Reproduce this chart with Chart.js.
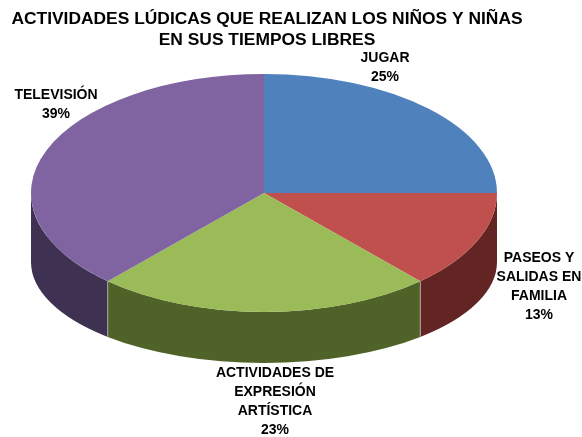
<!DOCTYPE html>
<html>
<head>
<meta charset="utf-8">
<script src="https://cdn.jsdelivr.net/npm/chart.js@4"></script>
<style>html,body{margin:0;padding:0;background:#fff}canvas{display:block}</style>
</head>
<body>
<canvas id="c" width="582" height="437"></canvas>
<script>
const titleLines = ["ACTIVIDADES LÚDICAS QUE REALIZAN LOS NIÑOS Y NIÑAS", "EN SUS TIEMPOS LIBRES"];
const categories = ["JUGAR", "PASEOS Y SALIDAS EN FAMILIA", "ACTIVIDADES DE EXPRESIÓN ARTÍSTICA", "TELEVISIÓN"];
const values = [25, 13.3, 23.4, 38.3];
const percentLabels = ["25%", "13%", "23%", "39%"];
const labelLines = [["JUGAR"], ["PASEOS Y", "SALIDAS EN", "FAMILIA"], ["ACTIVIDADES DE", "EXPRESIÓN", "ARTÍSTICA"], ["TELEVISIÓN"]];
const topColors = ["#4F81BD", "#C0504D", "#9BBB59", "#8064A2"];
const sideColors = ["#385D8A", "#632523", "#4F6228", "#3F3151"];

const TOP = {cx: 264, cy: 193, rx: 233, ry: 119};
const BOTTOM = {cx: 264, cy: 262, rx: 233, ry: 101};
const labelAnchors = [[385, 58], [539, 258], [275, 373], [56, 95]];
const labelLineHeight = 19;

const pie3d = {
  id: "pie3d",
  beforeDatasetsDraw(chart) {
    const ctx = chart.ctx;
    const arcs = chart.getDatasetMeta(0).data;
    arcs.forEach((arc, i) => {
      const a = Math.max(arc.startAngle, 0), b = Math.min(arc.endAngle, Math.PI);
      if (b <= a) return;
      ctx.beginPath();
      ctx.ellipse(TOP.cx, TOP.cy, TOP.rx, TOP.ry, 0, a, b, false);
      ctx.ellipse(BOTTOM.cx, BOTTOM.cy, BOTTOM.rx, BOTTOM.ry, 0, b, a, true);
      ctx.closePath();
      ctx.fillStyle = sideColors[i];
      ctx.fill();
    });
    arcs.forEach(arc => {
      const e = arc.endAngle;
      if (e <= 0 || e >= Math.PI) return;
      ctx.beginPath();
      ctx.moveTo(TOP.cx + TOP.rx * Math.cos(e), TOP.cy + TOP.ry * Math.sin(e));
      ctx.lineTo(BOTTOM.cx + BOTTOM.rx * Math.cos(e), BOTTOM.cy + BOTTOM.ry * Math.sin(e));
      ctx.strokeStyle = "rgba(200,200,200,0.7)";
      ctx.lineWidth = 1;
      ctx.stroke();
    });
    const first = arcs[0];
    ctx.save();
    ctx.translate(TOP.cx, TOP.cy);
    ctx.scale(TOP.rx / first.outerRadius, TOP.ry / first.outerRadius);
    ctx.translate(-first.x, -first.y);
  },
  afterDatasetsDraw(chart) {
    const ctx = chart.ctx;
    ctx.restore();
    ctx.fillStyle = "#000";
    ctx.font = "bold 14px 'Liberation Sans', Arial, sans-serif";
    ctx.textAlign = "center";
    ctx.textBaseline = "middle";
    labelLines.forEach((lines, i) => {
      const all = lines.concat(percentLabels[i]);
      all.forEach((t, k) => ctx.fillText(t, labelAnchors[i][0], labelAnchors[i][1] + k * labelLineHeight));
    });
  }
};

new Chart(document.getElementById("c"), {
  type: "pie",
  data: {
    labels: categories,
    datasets: [{data: values, backgroundColor: topColors, borderWidth: 0, clip: false}]
  },
  plugins: [pie3d],
  options: {
    responsive: false,
    animation: false,
    rotation: 0,
    layout: {padding: {right: 48}},
    plugins: {
      legend: {display: false},
      tooltip: {enabled: false},
      title: {
        display: true,
        text: titleLines,
        color: "#000",
        font: {family: "'Liberation Sans', Arial, sans-serif", size: 17.4, weight: "bold", lineHeight: 1.2},
        padding: {top: 9, bottom: 0}
      }
    }
  }
});
</script>
</body>
</html>
